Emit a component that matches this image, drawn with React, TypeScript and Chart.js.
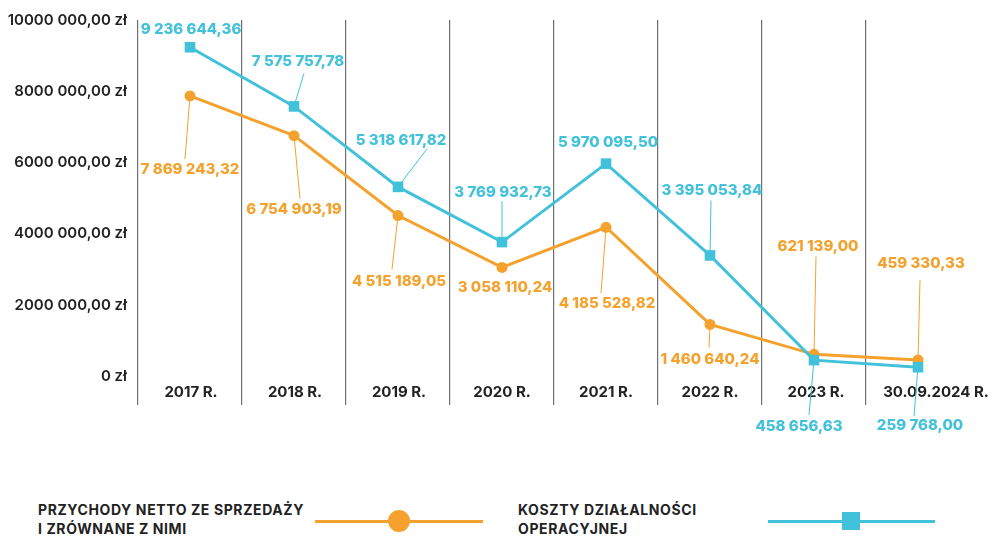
import React, { useEffect, useRef } from "react";
import { Chart, registerables } from "chart.js";

Chart.register(...registerables);

const categories = ["2017 R.", "2018 R.", "2019 R.", "2020 R.", "2021 R.", "2022 R.", "2023 R.", "30.09.2024 R."];
const revenue = [7869243.32, 6754903.19, 4515189.05, 3058110.24, 4185528.82, 1460640.24, 621139.0, 459330.33];
const costs = [9236644.36, 7575757.78, 5318617.82, 3769932.73, 5970095.5, 3395053.84, 458656.63, 259768.0];
const yTickValues = [0, 2000000, 4000000, 6000000, 8000000, 10000000];
const yTickLabels = ["0 zł", "2000 000,00 zł", "4000 000,00 zł", "6000 000,00 zł", "8000 000,00 zł", "10000 000,00 zł"];
const legendRevenue = ["PRZYCHODY NETTO ZE SPRZEDAŻY", "I ZRÓWNANE Z NIMI"];
const legendCosts = ["KOSZTY DZIAŁALNOŚCI", "OPERACYJNEJ"];

const ORANGE = "#F4A22D";
const BLUE = "#42C1DA";
const FONT = "Inter, 'Open Sans', sans-serif";

// horizontal nudge of category labels (styling)
const categoryLabelDx = [1, 1, 1, 0, 0, 0, 2, 18];

// label placement relative to the point: [textDx, textDy, leaderDx, leaderDy]
const costOffsets: (number | null)[][] = [
  [1, -18, null, null],
  [4, -45, 10, -33],
  [3, -46, 29, -38],
  [1, -50, 0, -41],
  [2, -21, null, null],
  [2, -65, 1, -55],
  [-15, 66, -5, 55],
  [2, 58, -4, 49],
];
const revenueOffsets: (number | null)[][] = [
  [0, 74, -5, 63],
  [0, 74, 6, 63],
  [1, 66, -6, 54],
  [3, 20, null, null],
  [1, 76, -5, 66],
  [0, 35, -1, 23],
  [4, -108, 2, -98],
  [3, -97, 2, -80],
];

function fmt(v: number): string {
  const [i, d] = v.toFixed(2).split(".");
  return i.replace(/\B(?=(\d{3})+(?!\d))/g, " ") + "," + d;
}

const categoryLabelPlugin = {
  id: "categoryLabels",
  beforeDatasetsDraw(chart: any) {
    const ctx = chart.ctx;
    const xs = chart.scales.x;
    ctx.save();
    ctx.font = `700 15px ${FONT}`;
    ctx.fillStyle = "#222222";
    ctx.textAlign = "center";
    ctx.textBaseline = "middle";
    categories.forEach((c, i) => {
      ctx.fillText(c, xs.getPixelForValue(i) + categoryLabelDx[i], chart.chartArea.bottom - 13);
    });
    ctx.restore();
  },
};

const labelPlugin = {
  id: "valueLabels",
  afterDatasetsDraw(chart: any) {
    const ctx = chart.ctx;
    const groups = [
      { idx: 0, values: costs, offsets: costOffsets, color: BLUE },
      { idx: 1, values: revenue, offsets: revenueOffsets, color: ORANGE },
    ];
    ctx.save();
    ctx.font = `800 15px ${FONT}`;
    ctx.textAlign = "center";
    ctx.textBaseline = "middle";
    groups.forEach((g) => {
      const meta = chart.getDatasetMeta(g.idx);
      meta.data.forEach((pt: any, i: number) => {
        const [tx, ty, lx, ly] = g.offsets[i];
        if (lx !== null && ly !== null) {
          ctx.strokeStyle = g.color;
          ctx.lineWidth = 1;
          ctx.beginPath();
          ctx.moveTo(pt.x, pt.y);
          ctx.lineTo(pt.x + (lx as number), pt.y + (ly as number));
          ctx.stroke();
        }
        ctx.fillStyle = g.color;
        ctx.fillText(fmt(g.values[i]), pt.x + (tx as number), pt.y + (ty as number));
      });
    });
    ctx.restore();
  },
};

export default function App() {
  const ref = useRef<HTMLCanvasElement | null>(null);
  useEffect(() => {
    if (!ref.current) return;
    const chart = new Chart(ref.current, {
      type: "line",
      data: {
        labels: categories,
        datasets: [
          {
            label: "Koszty",
            data: costs,
            borderColor: BLUE,
            backgroundColor: BLUE,
            borderWidth: 3,
            pointStyle: "rect",
            pointRadius: 7.5,
            pointHoverRadius: 7.5,
            pointBorderWidth: 0,
            tension: 0,
            clip: false as any,
          },
          {
            label: "Przychody",
            data: revenue,
            borderColor: ORANGE,
            backgroundColor: ORANGE,
            borderWidth: 3,
            pointStyle: "circle",
            pointRadius: 5.5,
            pointHoverRadius: 5.5,
            pointBorderWidth: 0,
            tension: 0,
            clip: false as any,
          },
        ],
      },
      options: {
        animation: false,
        responsive: false,
        events: [],
        layout: { padding: { top: 12, right: 28, left: 0, bottom: 0 } },
        plugins: { legend: { display: false }, tooltip: { enabled: false } },
        scales: {
          x: {
            offset: true,
            grid: {
              offset: true,
              color: (c: any) =>
                c.type !== "tick" || c.index === undefined || c.index >= categories.length
                  ? "rgba(0,0,0,0)"
                  : "#707070",
              lineWidth: 1.2,
              drawTicks: false,
            },
            border: { display: false },
            ticks: { display: false },
            afterFit: (s: any) => {
              s.height = 55;
            },
          },
          y: {
            min: -800000,
            max: 10000000,
            grid: { display: false, drawTicks: false },
            border: { display: false },
            afterBuildTicks: (s: any) => {
              s.ticks = yTickValues.map((v) => ({ value: v }));
            },
            afterFit: (s: any) => {
              s.width = 138;
            },
            ticks: {
              padding: 11,
              color: "#222222",
              font: { family: FONT, size: 15, weight: 600 as any },
              callback: (v: any) => {
                const i = yTickValues.indexOf(Number(v));
                return i >= 0 ? yTickLabels[i] : "";
              },
            },
          },
        },
      },
      plugins: [categoryLabelPlugin, labelPlugin],
    });
    return () => chart.destroy();
  }, []);

  const legendText: React.CSSProperties = {
    position: "absolute",
    fontFamily: FONT,
    fontWeight: 700,
    fontSize: 14,
    lineHeight: "19px",
    color: "#222222",
    letterSpacing: "0.6px",
    whiteSpace: "nowrap",
  };

  return (
    <div style={{ position: "absolute", left: 0, top: 0, width: 998, height: 540, background: "#fff" }}>
      <canvas ref={ref} width={998} height={460} style={{ position: "absolute", left: 0, top: 0 }} />
      <div style={{ ...legendText, left: 38, top: 500 }}>
        {legendRevenue[0]}
        <br />
        {legendRevenue[1]}
      </div>
      <div style={{ position: "absolute", left: 315, top: 520, width: 168, height: 3, background: ORANGE }} />
      <div style={{ position: "absolute", left: 388, top: 510, width: 22, height: 22, borderRadius: 11, background: ORANGE }} />
      <div style={{ ...legendText, left: 518, top: 500 }}>
        {legendCosts[0]}
        <br />
        {legendCosts[1]}
      </div>
      <div style={{ position: "absolute", left: 768, top: 520, width: 167, height: 3, background: BLUE }} />
      <div style={{ position: "absolute", left: 842, top: 512, width: 18, height: 18, background: BLUE }} />
    </div>
  );
}
